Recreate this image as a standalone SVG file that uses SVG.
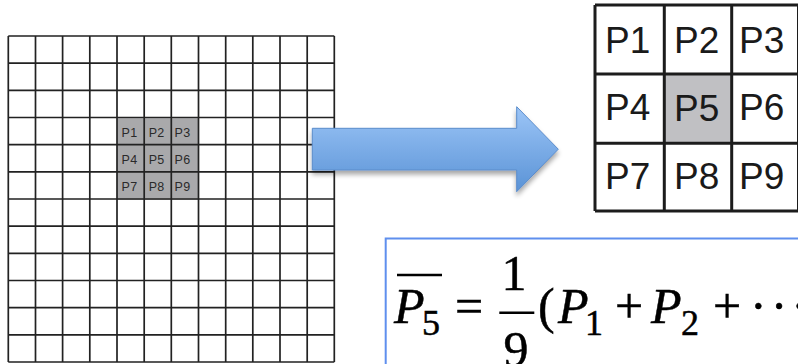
<svg xmlns="http://www.w3.org/2000/svg" width="798" height="364" viewBox="0 0 798 364">
<defs>
<linearGradient id="ag" x1="0" y1="0" x2="0" y2="1">
<stop offset="0" stop-color="#9cc5f7"/>
<stop offset="1" stop-color="#5a93d6"/>
</linearGradient>
<filter id="sh" x="-10%" y="-20%" width="120%" height="150%">
<feGaussianBlur in="SourceAlpha" stdDeviation="2.5"/>
<feOffset dx="0" dy="4" result="b"/>
<feComponentTransfer><feFuncA type="linear" slope="0.35"/></feComponentTransfer>
<feMerge><feMergeNode/><feMergeNode in="SourceGraphic"/></feMerge>
</filter>
</defs>
<style>
.g{stroke:#222;stroke-width:1.7;fill:none}
.G{stroke:#1c1c1c;stroke-width:3;fill:none}
.s{font-family:"Liberation Sans",Arial,sans-serif;font-size:12.5px;fill:#2a2a2a;letter-spacing:0.3px}
.b{font-family:"Liberation Sans",Arial,sans-serif;font-size:37px;fill:#1a1a1a}
.m{font-family:"Liberation Serif","Times New Roman",serif;font-size:50px;fill:#000;stroke:#000;stroke-width:0.5}
.i{font-style:italic}
.sub{font-size:36px}
</style>
<rect width="798" height="364" fill="#fff"/>
<g id="grid">
<rect x="117" y="118.3" width="81.5" height="81.5" fill="#a9a9ab"/>
<path class="g" d="M8.3 36V362M35.5 36V362M62.6 36V362M89.8 36V362M117 36V362M144.2 36V362M171.3 36V362M198.5 36V362M225.7 36V362M252.8 36V362M280 36V362M307.2 36V362M334.3 36V362M8.3 36H334.3M8.3 63.2H334.3M8.3 90.3H334.3M8.3 117.5H334.3M8.3 144.7H334.3M8.3 171.8H334.3M8.3 199H334.3M8.3 226.2H334.3M8.3 253.3H334.3M8.3 280.5H334.3M8.3 307.7H334.3M8.3 334.8H334.3M8.3 362H334.3"/>
<text class="s" x="121.5" y="136.5">P1</text>
<text class="s" x="148.7" y="136.5">P2</text>
<text class="s" x="174.6" y="136.5">P3</text>
<text class="s" x="121.5" y="163.8">P4</text>
<text class="s" x="148.7" y="163.8">P5</text>
<text class="s" x="174.6" y="163.8">P6</text>
<text class="s" x="121.5" y="191.2">P7</text>
<text class="s" x="148.7" y="191.2">P8</text>
<text class="s" x="174.6" y="191.2">P9</text>
</g>
<g id="connectors">
<path d="M312.3 128.3H516.7V106.7L558.3 149.2L516.7 191.7V170H312.3Z" fill="url(#ag)" stroke="#5b8ccb" stroke-width="1" filter="url(#sh)"/>
</g>
<g id="kernel">
<rect x="664.3" y="74" width="67.4" height="69.3" fill="#c0c0c3"/>
<path class="G" d="M595 5H800M595 74H800M595 143.3H800M595 211H800M595 5V211M664.3 5V211M731.7 5V211M798.5 5V211"/>
<text class="b" x="605" y="52.5">P1</text>
<text class="b" x="674" y="52.5">P2</text>
<text class="b" x="739" y="52.5">P3</text>
<text class="b" x="605" y="120">P4</text>
<text class="b" x="674" y="120.5">P5</text>
<text class="b" x="739" y="120">P6</text>
<text class="b" x="605" y="189">P7</text>
<text class="b" x="674" y="189">P8</text>
<text class="b" x="739" y="189">P9</text>
</g>
<g id="formula">
<rect x="385.7" y="238.5" width="430" height="140" fill="#fff" stroke="#5f8fee" stroke-width="2"/>
<line x1="397" y1="275" x2="442" y2="275" stroke="#000" stroke-width="2.5"/>
<text class="m i" x="394" y="323">P</text>
<text class="m sub" x="422" y="335">5</text>
<text class="m" x="455" y="323">=</text>
<text class="m" x="514" y="290" text-anchor="middle">1</text>
<line x1="499.3" y1="312.7" x2="534.3" y2="312.7" stroke="#000" stroke-width="2.5"/>
<text class="m" x="516" y="365.5" text-anchor="middle">9</text>
<text class="m" x="538" y="323">(</text>
<text class="m i" x="558" y="323">P</text>
<text class="m sub" x="585" y="335">1</text>
<text class="m" x="615" y="323">+</text>
<text class="m i" x="651" y="323">P</text>
<text class="m sub" x="681" y="335">2</text>
<text class="m" x="713" y="323">+</text>
<text class="m" x="750" y="323" letter-spacing="4">···</text>
</g>
</svg>
